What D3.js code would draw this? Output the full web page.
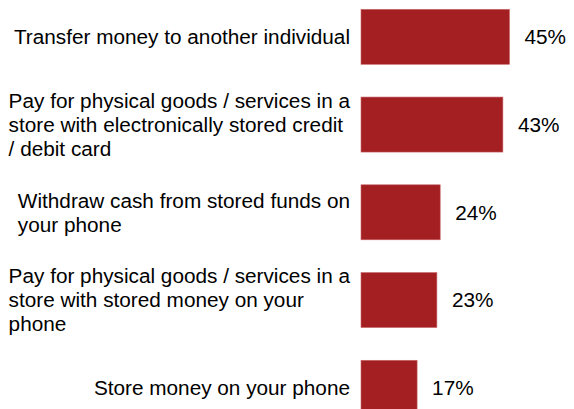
<!DOCTYPE html>
<html>
<head>
<meta charset="utf-8">
<script src="https://cdn.jsdelivr.net/npm/d3@7"></script>
<style>
  body { margin: 0; background: #fff; }
  text { font-family: "Liberation Sans", Arial, sans-serif; fill: #000; }
</style>
</head>
<body>
<svg id="chart" width="574" height="409"></svg>
<script>
const categories = [
  "Transfer money to another individual",
  "Pay for physical goods / services in a store with electronically stored credit / debit card",
  "Withdraw cash from stored funds on your phone",
  "Pay for physical goods / services in a store with stored money on your phone",
  "Store money on your phone"
];
// line breaks as they appear in the picture
const labelLines = [
  ["Transfer money to another individual"],
  ["Pay for physical goods / services in a", "store with electronically stored credit", "/ debit card"],
  ["Withdraw cash from stored funds on", "your phone"],
  ["Pay for physical goods / services in a", "store with stored money on your", "phone"],
  ["Store money on your phone"]
];
const values = [45, 43, 24, 23, 17];

(function () {
  const svg = d3.select("#chart"),
    barLeft = 361,
    labelRight = 350,
    fontSize = 20.75,
    lineHeight = 24;

  const x = d3.scaleLinear().domain([0, 100]).range([barLeft, barLeft + 330]);

  const y = d3
    .scaleBand()
    .domain(categories)
    .range([9.3, 415.3])
    .paddingInner(0.373)
    .paddingOuter(0);

  svg
    .selectAll("rect.bar")
    .data(values)
    .join("rect")
    .attr("class", "bar")
    .attr("x", x(0))
    .attr("y", (d, i) => y(categories[i]))
    .attr("width", (d) => x(d) - x(0))
    .attr("height", y.bandwidth())
    .attr("fill", "#a31f22")
    .attr("stroke", "#c9686a")
    .attr("stroke-width", 0.6);

  svg
    .selectAll("text.value")
    .data(values)
    .join("text")
    .attr("class", "value")
    .attr("x", (d) => x(d) + 15)
    .attr("y", (d, i) => y(categories[i]) + y.bandwidth() / 2)
    .attr("dy", "0.35em")
    .style("font-size", fontSize + "px")
    .text((d) => d + "%");

  // category labels: lines left-aligned, block pushed against the bars
  categories.forEach((c, i) => {
    const lines = labelLines[i];
    const cy = y(c) + y.bandwidth() / 2;
    const t = svg
      .append("text")
      .attr("class", "cat")
      .style("font-size", fontSize + "px");
    const spans = t
      .selectAll("tspan")
      .data(lines)
      .join("tspan")
      .attr("y", (d, j) => cy + (j - (lines.length - 1) / 2) * lineHeight)
      .attr("dy", "0.35em")
      .text((d) => d);
    const maxW = d3.max(spans.nodes(), (n) => n.getComputedTextLength());
    spans.attr("x", labelRight - maxW);
  });
})();
</script>
</body>
</html>
